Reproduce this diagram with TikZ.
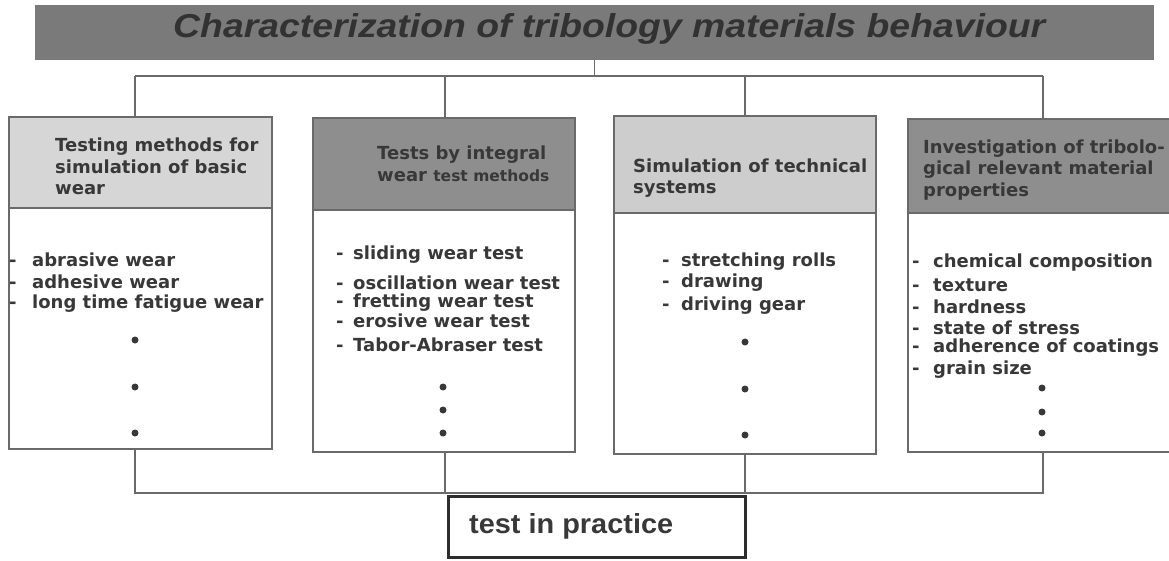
\documentclass[tikz,border=0pt]{standalone}
\usepackage{fontspec}
\setmainfont{DejaVu Sans}
\newfontfamily\titlefont{Liberation Sans}
\definecolor{ink}{HTML}{383838}
\definecolor{rule}{HTML}{6A6A6A}
\definecolor{barfill}{HTML}{7A7A7A}
\definecolor{lightfill}{HTML}{D6D6D6}
\definecolor{darkfill}{HTML}{8E8E8E}
\tikzset{
  wire/.style={draw=rule, line width=1.4pt},
  panel/.style={draw=rule, line width=1.4pt, inner sep=0pt},
  hdrtext/.style={inner sep=0pt, anchor=west, align=left, text=ink,
    font=\bfseries\fontsize{18}{21.5}\selectfont},
  itemtext/.style={inner sep=0pt, anchor=west, text=ink,
    font=\bfseries\fontsize{18}{21.5}\selectfont},
  dashmark/.style={itemtext, anchor=base west},
  dotmark/.style={circle, fill=ink, inner sep=0pt, minimum size=7pt},
}
\begin{document}
\begin{tikzpicture}[x=1pt,y=-1pt]
\clip (0,0) rectangle (1169,561);
\fill[white] (0,0) rectangle (1169,561);

% title bar
\node[fill=barfill, inner sep=0pt, minimum width=1119pt, minimum height=55pt] (title) at (594.5,32.5) {};
\node[inner sep=0pt, anchor=base west, text=ink!90!black] (titletext) at (173,38)
  {\resizebox{872pt}{24pt}{\titlefont\bfseries\itshape Characterization of tribology materials behaviour}};

% the four panels: header and body
\node[panel, fill=lightfill, minimum width=263pt, minimum height=91pt] (hdr1) at (140.5,162.5) {};
\node[panel, fill=white, minimum width=263pt, minimum height=241pt] (body1) at (140.5,328.5) {};
\node[panel, fill=darkfill, minimum width=262pt, minimum height=92pt] (hdr2) at (444,164) {};
\node[panel, fill=white, minimum width=262pt, minimum height=242pt] (body2) at (444,331) {};
\node[panel, fill=lightfill!96!black, minimum width=262pt, minimum height=97pt] (hdr3) at (745,164.5) {};
\node[panel, fill=white, minimum width=262pt, minimum height=241pt] (body3) at (745,333.5) {};
\node[panel, fill=darkfill, minimum width=270pt, minimum height=94pt] (hdr4) at (1043,166) {};
\node[panel, fill=white, minimum width=270pt, minimum height=239pt] (body4) at (1043,332.5) {};

% top distribution bus
\coordinate (t1) at (135,76);
\coordinate (t2) at (445,76);
\coordinate (t3) at (745,76);
\coordinate (t4) at (1043,76);
\draw[wire] (title.south) -- (title.south |- t1);
\draw[wire] (t1) -- (t4);
\foreach \i in {1,...,4} \draw[wire] (t\i) -- (t\i |- hdr\i.north);

% bottom collecting bus
\coordinate (b1) at (135,493);
\coordinate (b2) at (445,493);
\coordinate (b3) at (745,493);
\coordinate (b4) at (1043,493);
\draw[wire] (body1.south -| b1) -- (b1) -- (b4) -- (body4.south -| b4);
\draw[wire] (body2.south -| b2) -- (b2);
\draw[wire] (body3.south -| b3) -- (b3);

% test in practice
\node[draw=ink!80!black, line width=3pt, inner sep=0pt, minimum width=297pt, minimum height=61pt] (practice) at (597,527) {};
\node[inner sep=0pt, anchor=base west, text=ink] (practicetext) at (469,533)
  {\resizebox{204pt}{20pt}{\titlefont\bfseries test in practice}};

% header texts
\node[hdrtext] (h1) at (55,166.5) {Testing methods for\\simulation of basic\\wear};
\node[hdrtext] (h2) at (377,164) {Tests by integral\\wear {\fontsize{15.5}{21.5}\selectfont test methods}};
\node[hdrtext] (h3) at (633,178) {Simulation of technical\\systems};
\node[hdrtext] (h4) at (923,170) {Investigation of tribolo-\\gical relevant material\\properties};

% list entries, each with its leading dash on the same baseline
\foreach \y/\t [count=\k] in {260/abrasive wear, 282/adhesive wear, 304/long time fatigue wear} {
  \node[itemtext] (la-\k) at (32,\y) {\t};
  \node[dashmark] (da-\k) at (la-\k.base -| 9,0) {-};
}
\foreach \y/\t [count=\k] in {255/sliding wear test, 283/oscillation wear test, 303/fretting wear test, 321/erosive wear test, 345/Tabor-Abraser test} {
  \node[itemtext] (lb-\k) at (353,\y) {\t};
  \node[dashmark] (db-\k) at (lb-\k.base -| 336,0) {-};
}
\foreach \y/\t [count=\k] in {262/stretching rolls, 283/drawing, 306/driving gear} {
  \node[itemtext] (lc-\k) at (681,\y) {\t};
  \node[dashmark] (dc-\k) at (lc-\k.base -| 662,0) {-};
}
\foreach \y/\t [count=\k] in {263/chemical composition, 285/texture, 307/hardness, 328/state of stress, 348/adherence of coatings, 370/grain size} {
  \node[itemtext] (ld-\k) at (933,\y) {\t};
  \node[dashmark] (dd-\k) at (ld-\k.base -| 912,0) {-};
}

% continuation dots
\foreach \y [count=\k] in {340,387,433} \node[dotmark] (pa-\k) at (135,\y) {};
\foreach \y [count=\k] in {387,410,433} \node[dotmark] (pb-\k) at (443,\y) {};
\foreach \y [count=\k] in {342,389,435} \node[dotmark] (pc-\k) at (745,\y) {};
\foreach \y [count=\k] in {388,412,433} \node[dotmark] (pd-\k) at (1042,\y) {};
\end{tikzpicture}
\end{document}
